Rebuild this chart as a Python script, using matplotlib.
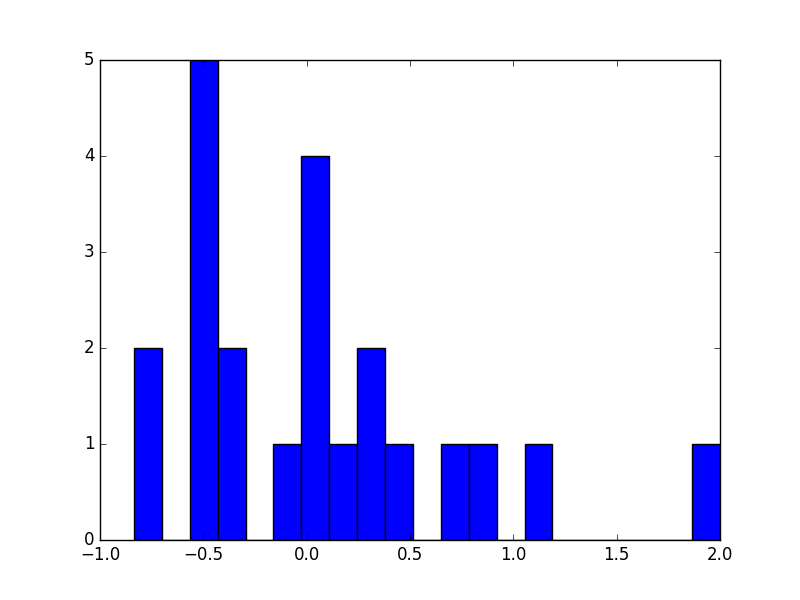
import matplotlib
matplotlib.use('Agg')
from matplotlib import pyplot as plt
import numpy as np

plt.style.use('classic')

# histogram: 21 bins, each about 0.135 wide
left_edge = -0.8355
bin_width = 0.1350
counts = [2, 0, 5, 2, 0, 1, 4, 1, 2, 1, 0, 1, 1, 0, 1, 0, 0, 0, 0, 0, 1]

edges = left_edge + bin_width * np.arange(len(counts) + 1)
centers = (edges[:-1] + edges[1:]) / 2

fig = plt.figure(figsize=(8, 6), dpi=100)
ax = fig.add_subplot(111)
ax.hist(centers, bins=edges, weights=counts, color='b')
ax.set_xlim(-1.0, 2.0)
ax.set_ylim(0, 5)

fig.savefig('out.png', dpi=100)
